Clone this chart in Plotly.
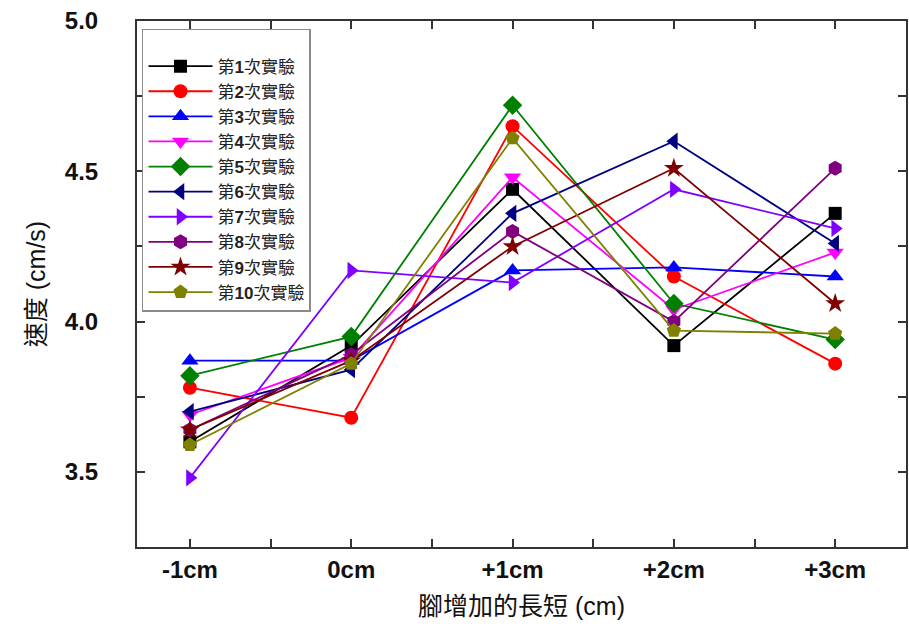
import plotly.graph_objects as go

# Leg-length categories (x axis)
categories = ["-1cm", "0cm", "+1cm", "+2cm", "+3cm"]

# Measured speed (cm/s) for each trial
trial_1 = [3.60, 3.92, 4.44, 3.92, 4.36]
trial_2 = [3.78, 3.68, 4.65, 4.15, 3.86]
trial_3 = [3.87, 3.87, 4.17, 4.18, 4.15]
trial_4 = [3.69, 3.88, 4.48, 4.04, 4.23]
trial_5 = [3.82, 3.95, 4.72, 4.06, 3.94]
trial_6 = [3.70, 3.84, 4.36, 4.60, 4.26]
trial_7 = [3.48, 4.17, 4.13, 4.44, 4.31]
trial_8 = [3.64, 3.89, 4.30, 4.00, 4.51]
trial_9 = [3.64, 3.87, 4.25, 4.51, 4.06]
trial_10 = [3.59, 3.86, 4.61, 3.97, 3.96]

trials = [trial_1, trial_2, trial_3, trial_4, trial_5,
          trial_6, trial_7, trial_8, trial_9, trial_10]
names = [f"第<b>{i}</b>次實驗" for i in range(1, 11)]

colors = ["#000000", "#FF0000", "#0000FF", "#FF00FF", "#008000",
          "#000080", "#8000FF", "#800080", "#800000", "#808000"]
symbols = ["square", "circle", "triangle-up", "triangle-down", "diamond",
           "triangle-left", "triangle-right", "hexagon", "star", "pentagon"]
sizes = [13, 14, 15, 15, 15, 15, 15, 15, 15, 15]

xpos = list(range(len(categories)))

fig = go.Figure()
for vals, name, col, sym, sz in zip(trials, names, colors, symbols, sizes):
    fig.add_trace(go.Scatter(
        x=xpos, y=vals, name=name, mode="lines+markers",
        line=dict(color=col, width=1.8),
        marker=dict(symbol=sym, size=sz, color=col, line=dict(width=0)),
    ))

tick_font = dict(family="Liberation Sans, Arial, sans-serif", size=24,
                 color="#111111", weight="bold")
title_font = dict(family="Liberation Sans, Noto Sans CJK TC, sans-serif",
                  size=25, color="#111111")

fig.update_xaxes(
    range=[-0.328, 4.439], tickvals=xpos, ticktext=categories,
    ticks="inside", ticklen=8, tickwidth=2, tickcolor="#333333",
    showline=True, linewidth=2, linecolor="#333333", mirror="ticks",
    minor=dict(ticks="inside", dtick=0.5, tick0=0, ticklen=8,
               tickwidth=1.5, tickcolor="#333333"),
    showgrid=False, zeroline=False, tickfont=tick_font,
    title=dict(text="腳增加的長短 (cm)", font=title_font, standoff=16),
)
fig.update_yaxes(
    range=[3.25, 5.0], dtick=0.5, tick0=3.5, tickformat=".1f",
    ticks="inside", ticklen=8, tickwidth=2, tickcolor="#333333",
    showline=True, linewidth=2, linecolor="#333333", mirror="ticks",
    minor=dict(ticks="inside", dtick=0.25, tick0=3.25, ticklen=8,
               tickwidth=1.5, tickcolor="#333333"),
    showgrid=False, zeroline=False, tickfont=tick_font,
    ticklabelstandoff=32,
    title=dict(text="速度 (cm/s)", font=title_font, standoff=12),
)

fig.update_layout(
    width=909, height=629,
    margin=dict(l=137, r=1, t=21, b=82),
    plot_bgcolor="white", paper_bgcolor="white",
    font=dict(family="Liberation Sans, Noto Sans CJK TC, sans-serif"),
    legend=dict(
        x=0.0065, y=0.985, xanchor="left", yanchor="top",
        bgcolor="white", bordercolor="#8a8a8a", borderwidth=1.5,
        font=dict(family="Liberation Sans, Noto Sans CJK TC, sans-serif",
                  size=17, color="#222222"),
        title=dict(text="&nbsp;", font=dict(size=14)),
        itemwidth=64, tracegroupgap=0,
    ),
)

fig.write_html("out.html")
